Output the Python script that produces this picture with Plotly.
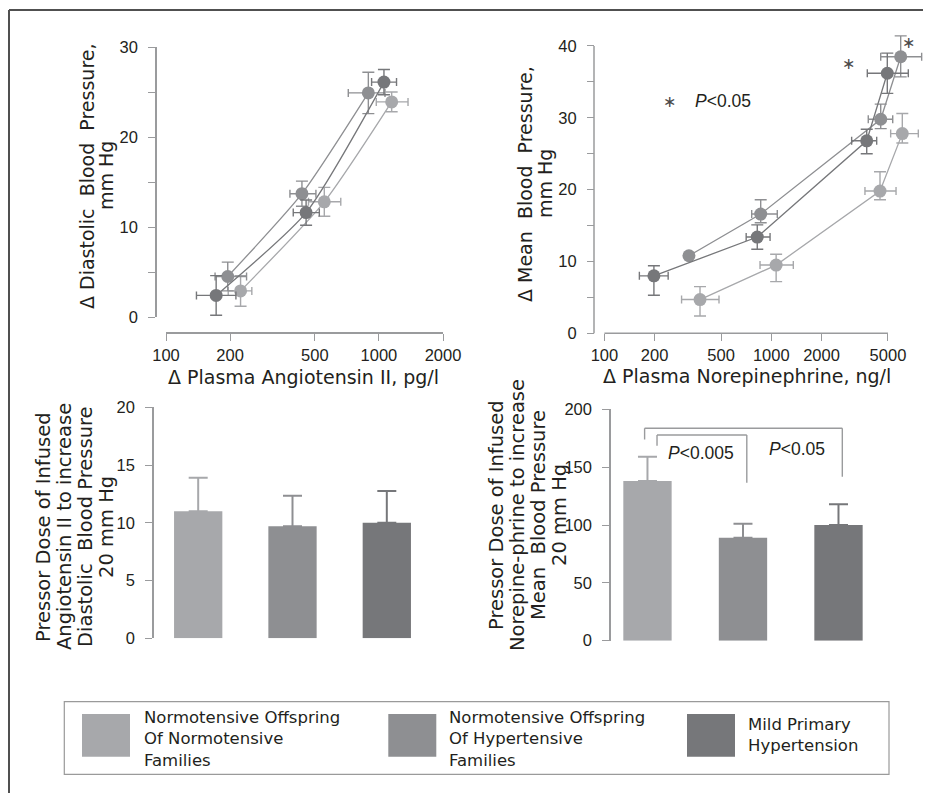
import numpy as np
import plotly.graph_objects as go

W, H = 931, 793
OFF = 8  # the page places the figure 8 px in from the window corner

# ---------------- data ----------------
group_names = ["Normotensive Offspring Of Normotensive Families",
               "Normotensive Offspring Of Hypertensive Families",
               "Mild Primary Hypertension"]
legend_labels = ["Normotensive Offspring<br>Of Normotensive<br>Families",
                 "Normotensive Offspring<br>Of Hypertensive<br>Families",
                 "Mild Primary<br>Hypertension"]
colors = ["#a7a8ab", "#8e8f92", "#76777a"]

# Δ plasma angiotensin II (pg/l) vs Δ diastolic blood pressure (mm Hg)
ang_nn_x = [224, 554, 1148]
ang_nn_xlo = [196, 467, 972]
ang_nn_xhi = [253, 662, 1370]
ang_nn_y = [2.9, 12.8, 23.9]
ang_nn_ysem = [1.7, 1.6, 1.1]

ang_nh_x = [195, 435, 892]
ang_nh_xlo = [170, 382, 718]
ang_nh_xhi = [239, 506, 1068]
ang_nh_y = [4.5, 13.7, 24.9]
ang_nh_ysem = [1.6, 1.4, 2.3]

ang_ht_x = [172, 455, 1056]
ang_ht_xlo = [139, 396, 924]
ang_ht_xhi = [213, 525, 1210]
ang_ht_y = [2.4, 11.6, 26.1]
ang_ht_ysem = [2.2, 1.4, 1.4]

# Δ plasma norepinephrine (ng/l) vs Δ mean blood pressure (mm Hg)
ne_nn_x = [374, 1069, 4480, 6095]
ne_nn_xlo = [290, 856, 3640, 5190]
ne_nn_xhi = [486, 1355, 5590, 7600]
ne_nn_y = [4.7, 9.5, 19.8, 27.8]
ne_nn_ylo = [2.4, 7.2, 18.6, 26.5]
ne_nn_yhi = [6.5, 11.0, 22.5, 30.6]

ne_nh_x = [321, 864, 4525, 5960]
ne_nh_xlo = [None, 763, 3810, 4525]
ne_nh_xhi = [None, 1086, 5340, 7960]
ne_nh_y = [10.8, 16.6, 29.8, 38.5]
ne_nh_ylo = [None, 15.4, 28.5, 35.7]
ne_nh_yhi = [None, 18.6, 31.9, 41.4]

ne_ht_x = [198, 824, 3730, 4955]
ne_ht_xlo = [162, 707, 3030, 3760]
ne_ht_xhi = [241, 983, 4280, 6620]
ne_ht_y = [8.0, 13.4, 26.8, 36.2]
ne_ht_ylo = [5.3, 11.7, 25.0, 33.4]
ne_ht_yhi = [9.4, 15.1, 28.4, 39.0]

# pressor doses (bars, mean + SEM)
ang_dose = [11.0, 9.7, 10.0]
ang_dose_sem = [2.9, 2.65, 2.75]
ne_dose = [138, 89, 100]
ne_dose_sem = [21, 12, 18]

# tick labels
ang_xticks = [100, 200, 500, 1000, 2000]
ne_xticks = [100, 200, 500, 1000, 2000, 5000]
ang_yticks = [0, 5, 10, 15, 20, 25, 30]
ang_ylabels = ["0", "", "10", "", "20", "", "30"]
ne_yticks = [0, 5, 10, 15, 20, 25, 30, 35, 40]
ne_ylabels = ["0", "", "10", "", "20", "", "30", "", "40"]
bar1_yticks = [0, 5, 10, 15, 20]
bar2_yticks = [0, 50, 100, 150, 200]

# annotations in data units
sig_star_ne = [(2890, 37.6), (6680, 40.5)]
bracket_outer = (-0.03, 2.04, 183.6, 174.0, 141.7)
bracket_inner = (0.10, 1.04, 177.8, 168.5, 136.6)

# ---------------- helpers ----------------
def xp(px):
    return (px - OFF) / W

def yp(py):
    return 1 - (py - OFF) / H

def plus_minus(vals, lo, hi):
    plus = [None if h is None else h - v for v, h in zip(vals, hi)]
    minus = [None if l is None else v - l for v, l in zip(vals, lo)]
    return plus, minus

AX = "#9a9b9d"
TXT = "#231f20"
TICKFONT = dict(family="Liberation Sans, Arial", size=16.5, color=TXT)
TITLEFONT = "DejaVu Sans"

fig = go.Figure()

# ---- panel 1: angiotensin ----
ang_series = [
    (ang_nn_x, ang_nn_xlo, ang_nn_xhi, ang_nn_y, ang_nn_ysem),
    (ang_nh_x, ang_nh_xlo, ang_nh_xhi, ang_nh_y, ang_nh_ysem),
    (ang_ht_x, ang_ht_xlo, ang_ht_xhi, ang_ht_y, ang_ht_ysem),
]
for (x, xlo, xhi, y, ysem), c, name in zip(ang_series, colors, group_names):
    xpl, xmi = plus_minus(x, xlo, xhi)
    fig.add_trace(go.Scatter(
        x=x, y=y, mode="lines+markers", name=name, showlegend=False,
        line=dict(color=c, width=1.3, shape="spline", smoothing=0.6),
        marker=dict(color=c, size=13),
        error_x=dict(type="data", symmetric=False, array=xpl, arrayminus=xmi,
                     color=c, thickness=1.4, width=4),
        error_y=dict(type="data", array=ysem, color=c, thickness=1.4, width=6),
        xaxis="x", yaxis="y"))

# ---- panel 2: norepinephrine ----
ne_series = [
    (ne_nn_x, ne_nn_xlo, ne_nn_xhi, ne_nn_y, ne_nn_ylo, ne_nn_yhi),
    (ne_nh_x, ne_nh_xlo, ne_nh_xhi, ne_nh_y, ne_nh_ylo, ne_nh_yhi),
    (ne_ht_x, ne_ht_xlo, ne_ht_xhi, ne_ht_y, ne_ht_ylo, ne_ht_yhi),
]
for (x, xlo, xhi, y, ylo, yhi), c, name in zip(ne_series, colors, group_names):
    xpl, xmi = plus_minus(x, xlo, xhi)
    ypl, ymi = plus_minus(y, ylo, yhi)
    fig.add_trace(go.Scatter(
        x=x, y=y, mode="lines+markers", name=name, showlegend=False,
        line=dict(color=c, width=1.3),
        marker=dict(color=c, size=13),
        error_x=dict(type="data", symmetric=False, array=xpl, arrayminus=xmi,
                     color=c, thickness=1.4, width=4),
        error_y=dict(type="data", symmetric=False, array=ypl, arrayminus=ymi,
                     color=c, thickness=1.4, width=6),
        xaxis="x2", yaxis="y2"))

# ---- bars ----
for i, c in enumerate(colors):
    fig.add_trace(go.Bar(
        x=[group_names[i]], y=[ang_dose[i]], name=group_names[i], showlegend=False,
        marker=dict(color=c, line=dict(width=0)), width=0.512,
        error_y=dict(type="data", symmetric=False, array=[ang_dose_sem[i]],
                     arrayminus=[0], color=c, thickness=2, width=9.5),
        xaxis="x3", yaxis="y3"))
    fig.add_trace(go.Bar(
        x=[group_names[i]], y=[ne_dose[i]], name=group_names[i], showlegend=False,
        marker=dict(color=c, line=dict(width=0)), width=0.506,
        error_y=dict(type="data", symmetric=False, array=[ne_dose_sem[i]],
                     arrayminus=[0], color=c, thickness=2, width=9.5),
        xaxis="x4", yaxis="y4"))

common_ax = dict(showgrid=False, zeroline=False, ticks="outside", ticklen=7,
                 tickwidth=1.3, tickcolor=AX, linecolor=AX, linewidth=1.5,
                 tickfont=TICKFONT, fixedrange=True, automargin=False)
yextra = dict(ticklabelstandoff=7)

# panel 2 geometry (log axis extended past the drawn axis line)
ne_x0, ne_slope = 270.6, 166.9
ne_xrange = [2.0, 3.92]
ne_ppu = 7.183
ne_yrange = [0, 42.5]

fig.update_layout(
    width=W, height=H, autosize=False,
    margin=dict(l=0, r=0, t=0, b=0, pad=0),
    paper_bgcolor="white", plot_bgcolor="white",
    showlegend=False, barmode="overlay",
    xaxis=dict(common_ax, type="log", range=[2, np.log10(2000)],
               domain=[xp(166), xp(443)], anchor="free", position=yp(333),
               tickvals=ang_xticks, ticktext=[str(v) for v in ang_xticks],
               showline=True),
    yaxis=dict(common_ax, **yextra, range=[0, 30], domain=[yp(317), yp(47)],
               anchor="free", position=xp(156), tickvals=ang_yticks,
               ticktext=ang_ylabels, showline=True),
    xaxis2=dict(common_ax, type="log", range=ne_xrange,
                domain=[xp(ne_x0 + ne_slope * ne_xrange[0]), xp(ne_x0 + ne_slope * ne_xrange[1])],
                anchor="free", position=yp(333.3),
                tickvals=ne_xticks, ticktext=[str(v) for v in ne_xticks],
                showline=False),
    yaxis2=dict(common_ax, **yextra, range=ne_yrange,
                domain=[yp(333.3), yp(333.3 - ne_ppu * ne_yrange[1])],
                anchor="free", position=xp(594), tickvals=ne_yticks,
                ticktext=ne_ylabels, showline=False),
    xaxis3=dict(type="category", range=[-0.405, 2.564], domain=[xp(160), xp(440)],
                visible=False, anchor="y3", fixedrange=True, automargin=False),
    yaxis3=dict(common_ax, **yextra, range=[0, 20], domain=[yp(638.3), yp(407.3)],
                anchor="free", position=xp(153), tickvals=bar1_yticks, showline=True),
    xaxis4=dict(type="category", range=[-0.340, 2.644], domain=[xp(615), xp(900)],
                visible=False, anchor="y4", fixedrange=True, automargin=False),
    yaxis4=dict(common_ax, **yextra, range=[0, 200], domain=[yp(640.7), yp(409.3)],
                anchor="free", position=xp(610), tickvals=bar2_yticks, showline=True),
)

shapes = []
# panel 2 axis lines (drawn only over the labelled span, as in the original)
d0, d1 = fig.layout.xaxis2.domain
def ne_xpaper(v):
    return d0 + (np.log10(v) - ne_xrange[0]) / (ne_xrange[1] - ne_xrange[0]) * (d1 - d0)
e0, e1 = fig.layout.yaxis2.domain
def ne_ypaper(v):
    return e0 + (v - ne_yrange[0]) / (ne_yrange[1] - ne_yrange[0]) * (e1 - e0)
shapes.append(dict(type="line", xref="paper", yref="paper",
                   x0=ne_xpaper(ne_xticks[0]), x1=ne_xpaper(ne_xticks[-1]),
                   y0=yp(333.3), y1=yp(333.3), line=dict(color=AX, width=1.5)))
shapes.append(dict(type="line", xref="paper", yref="paper",
                   x0=xp(594), x1=xp(594), y0=ne_ypaper(0), y1=ne_ypaper(40),
                   line=dict(color=AX, width=1.5)))

# significance brackets
for (bx0, bx1, btop, bl, br) in (bracket_outer, bracket_inner):
    for seg in ((bx0, bl, bx0, btop), (bx0, btop, bx1, btop), (bx1, btop, bx1, br)):
        shapes.append(dict(type="line", xref="x4", yref="y4", x0=seg[0], y0=seg[1],
                           x1=seg[2], y1=seg[3], line=dict(color=AX, width=1.4)))

# outer frame (top and left edges)
FR = dict(color="#505050", width=2)
shapes.append(dict(type="line", xref="paper", yref="paper", x0=xp(9), x1=1,
                   y0=yp(10), y1=yp(10), line=FR))
shapes.append(dict(type="line", xref="paper", yref="paper", x0=xp(9), x1=xp(9),
                   y0=yp(10), y1=0, line=FR))

# legend box and swatches
shapes.append(dict(type="rect", xref="paper", yref="paper", x0=xp(64.3), x1=xp(889),
                   y0=yp(701.7), y1=yp(774.3), line=dict(color="#9a9a9a", width=1.2)))
sw_x = [82, 388.3, 687]
for sx, c in zip(sw_x, colors):
    shapes.append(dict(type="rect", xref="paper", yref="paper", x0=xp(sx), x1=xp(sx + 48),
                       y0=yp(714), y1=yp(756.7), line=dict(width=0), fillcolor=c))
fig.update_layout(shapes=shapes)

ann = []
def add_text(text, x, y, size, angle=0, xanchor="center", yanchor="middle",
             family=TITLEFONT, align="center", xref="paper", yref="paper", color=TXT):
    ann.append(dict(text=text, x=x, y=y, xref=xref, yref=yref, showarrow=False,
                    textangle=angle, xanchor=xanchor, yanchor=yanchor, align=align,
                    font=dict(family=family, size=size, color=color)))

NB = "\u00a0"
# x titles
add_text("Δ Plasma Angiotensin II, pg/l", xp(303), yp(377), 19)
add_text("Δ Plasma Norepinephrine, ng/l", xp(747), yp(376), 19)
# y titles top
add_text(f"Δ Diastolic{NB}{NB}Blood{NB}{NB}Pressure,", xp(87), yp(176), 19, angle=-90)
add_text("mm Hg", xp(106), yp(176), 19, angle=-90)
add_text(f"Δ Mean{NB}{NB}Blood{NB}{NB}Pressure,", xp(525), yp(184), 19, angle=-90)
add_text("mm Hg", xp(545), yp(184), 19, angle=-90)
# y titles bars
for line, x in zip(["Pressor Dose of Infused", "Angiotensin II to increase",
                    f"Diastolic{NB}{NB}Blood Pressure", "20 mm Hg"], [43, 64, 85, 106]):
    add_text(line, xp(x), yp(527), 19.5, angle=-90)
for line, x in zip(["Pressor Dose of Infused", "Norepine-phrine to increase",
                    f"Mean{NB}{NB}Blood Pressure", "20 mm Hg"], [496, 517, 538, 559]):
    add_text(line, xp(x), yp(515), 19.5, angle=-90)

# significance labels
PF = "Liberation Sans, Arial"
add_text("<i>P</i>&lt;0.005", 0.558, 162.5, 17.5, family=PF, xref="x4", yref="y4")
add_text("<i>P</i>&lt;0.05", 1.565, 165.4, 17.5, family=PF, xref="x4", yref="y4")
for sx, sy in sig_star_ne:
    add_text("∗", np.log10(sx), sy, 16, family="DejaVu Sans", xref="x2", yref="y2",
             color="#4a4a4a")
add_text("∗", np.log10(247), 32.3, 16, family="DejaVu Sans", xref="x2", yref="y2",
         color="#4a4a4a")
add_text("<i>P</i>&lt;0.05", np.log10(340), 32.3, 17.5, family=PF, xanchor="left",
         xref="x2", yref="y2")

# legend texts
add_text(legend_labels[0], xp(141.7), yp(739), 16.5, xanchor="left", align="left")
add_text(legend_labels[1], xp(446.7), yp(739), 16.5, xanchor="left", align="left")
add_text(legend_labels[2], xp(746), yp(734.5), 16.5, xanchor="left", align="left")

fig.update_layout(annotations=ann)
fig.write_html("out.html", config={"displayModeBar": False})
